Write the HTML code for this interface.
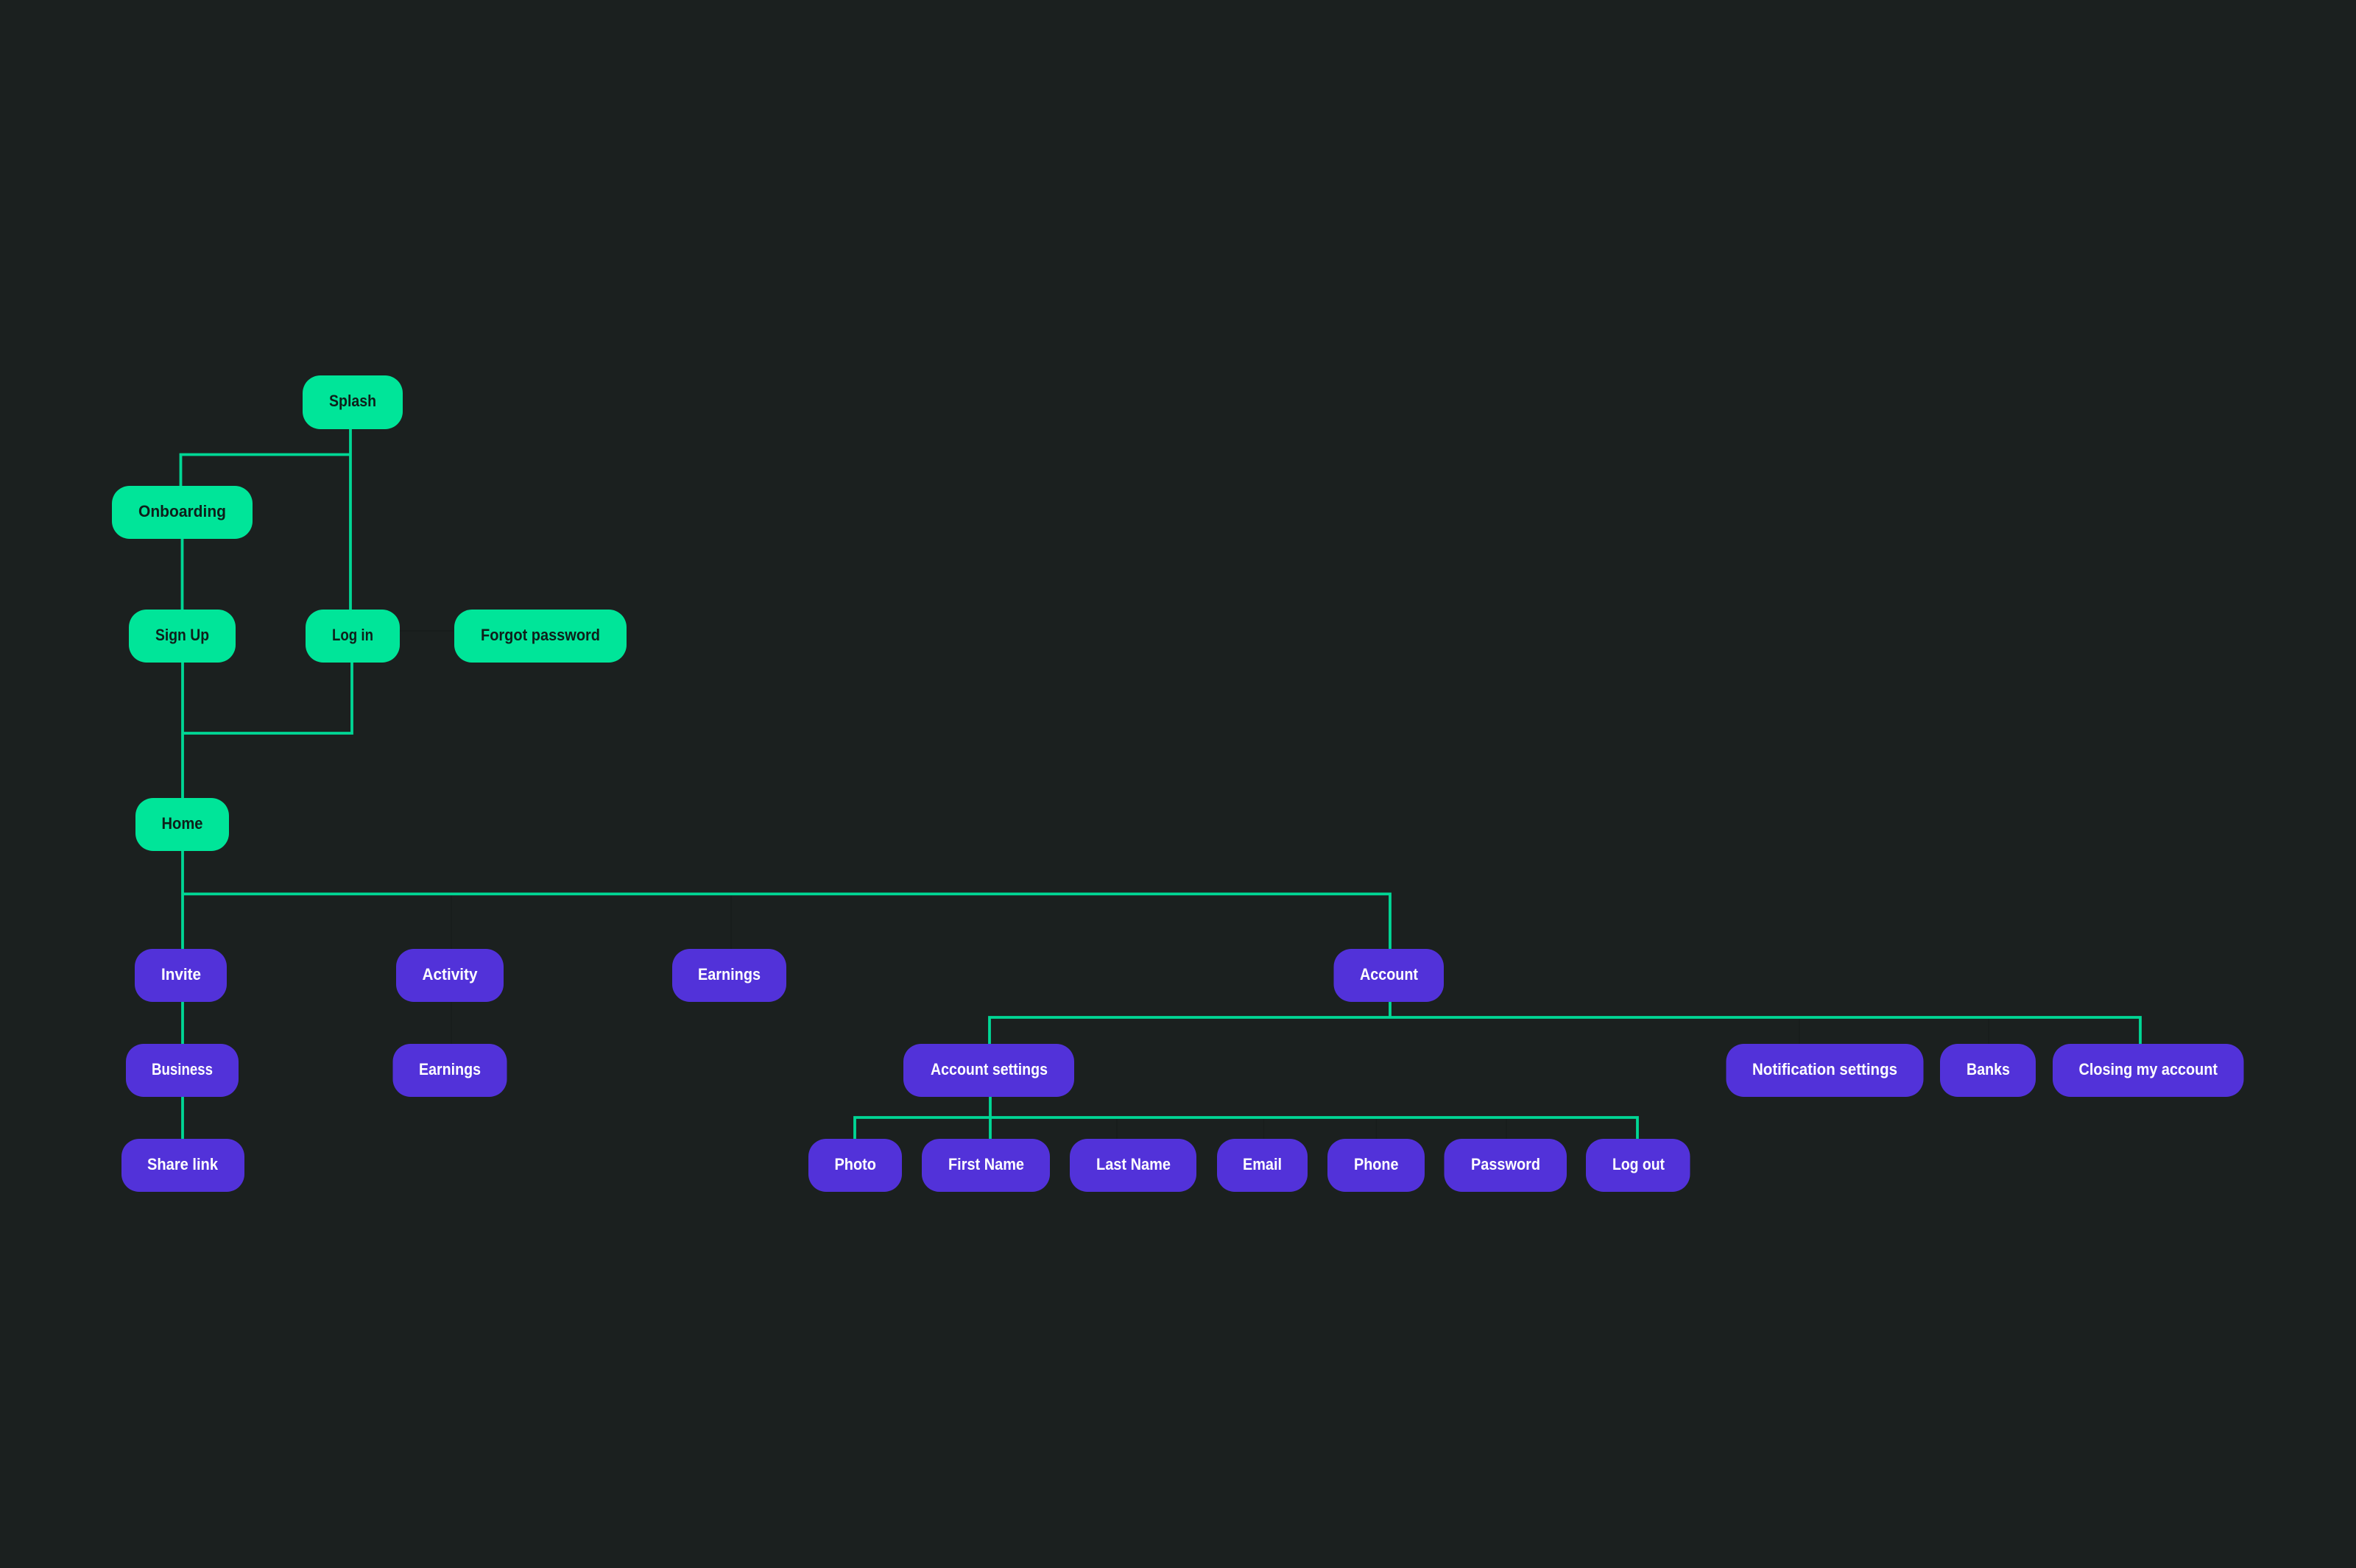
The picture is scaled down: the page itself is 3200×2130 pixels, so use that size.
<!DOCTYPE html>
<html>
<head>
<meta charset="utf-8">
<style>
html,body{margin:0;padding:0;background:#1b201f;}
svg{display:block;}
text{font-family:"Liberation Sans",sans-serif;font-weight:700;font-size:22px;text-anchor:start;}
.g rect{fill:#00e599;}
.p rect{fill:#5232d9;}
.g text{fill:#0e1f1a;}
.p text{fill:#ffffff;}
.l{stroke:#00d795;stroke-width:3.8;fill:none;}
.f{stroke:#181c1b;stroke-width:1.5;fill:none;}
.t{transform:translateY(-1px);}
</style>
</head>
<body>
<svg xmlns="http://www.w3.org/2000/svg" width="3200" height="2130" viewBox="0 0 3200 2130">
<rect width="3200" height="2130" fill="#1b201f"/>

<g class="f">
<path d="M543 857H616"/>
<path d="M613 1216V1289"/>
<path d="M993 1216V1289"/>
<path d="M613 1361V1418"/>
<path d="M2444 1384V1418"/>
<path d="M2701 1384V1418"/>
<path d="M1517 1520V1547"/>
<path d="M1716.5 1520V1547"/>
<path d="M1869.5 1520V1547"/>
<path d="M2046 1520V1547"/>
</g>

<g class="l">
<path d="M476 583V828"/>
<path d="M476 617.5H245.5V660"/>
<path d="M247.5 732V828"/>
<path d="M248 900V1084"/>
<path d="M478 900V996H248"/>
<path d="M248 1156V1289"/>
<path d="M248 1214.4H1888V1289"/>
<path d="M248 1361V1418"/>
<path d="M248 1490V1547"/>
<path d="M1888 1361V1382"/>
<path d="M1344 1418V1382H2907V1418"/>
<path d="M1345 1490V1547"/>
<path d="M1161 1547V1518H2224V1547"/>
</g>

<g class="g">
<rect x="411" y="510" width="136" height="73" rx="24"/>
<text class="t" x="447" y="553" textLength="64" lengthAdjust="spacingAndGlyphs">Splash</text>
<rect x="152" y="660" width="191" height="72" rx="24"/>
<text class="t" x="188" y="703" textLength="119" lengthAdjust="spacingAndGlyphs">Onboarding</text>
<rect x="175" y="828" width="145" height="72" rx="24"/>
<text class="t" x="211" y="871" textLength="73" lengthAdjust="spacingAndGlyphs">Sign Up</text>
<rect x="415" y="828" width="128" height="72" rx="24"/>
<text class="t" x="451" y="871" textLength="56" lengthAdjust="spacingAndGlyphs">Log in</text>
<rect x="617" y="828" width="234" height="72" rx="24"/>
<text class="t" x="653" y="871" textLength="162" lengthAdjust="spacingAndGlyphs">Forgot password</text>
<rect x="184" y="1084" width="127" height="72" rx="24"/>
<text class="t" x="219.500" y="1127" textLength="56" lengthAdjust="spacingAndGlyphs">Home</text>
</g>

<g class="p">
<rect x="183" y="1289" width="125" height="72" rx="24"/>
<text class="t" x="219" y="1332" textLength="54" lengthAdjust="spacingAndGlyphs">Invite</text>
<rect x="538" y="1289" width="146" height="72" rx="24"/>
<text class="t" x="573.500" y="1332" textLength="75" lengthAdjust="spacingAndGlyphs">Activity</text>
<rect x="913" y="1289" width="155" height="72" rx="24"/>
<text class="t" x="948" y="1332" textLength="85" lengthAdjust="spacingAndGlyphs">Earnings</text>
<rect x="1811.500" y="1289" width="149.500" height="72" rx="24"/>
<text class="t" x="1847" y="1332" textLength="79" lengthAdjust="spacingAndGlyphs">Account</text>

<rect x="171" y="1418" width="153" height="72" rx="24"/>
<text class="t" x="206" y="1461" textLength="83" lengthAdjust="spacingAndGlyphs">Business</text>
<rect x="533.500" y="1418" width="155" height="72" rx="24"/>
<text class="t" x="569" y="1461" textLength="84" lengthAdjust="spacingAndGlyphs">Earnings</text>
<rect x="1227" y="1418" width="232" height="72" rx="24"/>
<text class="t" x="1264" y="1461" textLength="159" lengthAdjust="spacingAndGlyphs">Account settings</text>
<rect x="2344.500" y="1418" width="268" height="72" rx="24"/>
<text class="t" x="2380" y="1461" textLength="197" lengthAdjust="spacingAndGlyphs">Notification settings</text>
<rect x="2635" y="1418" width="130" height="72" rx="24"/>
<text class="t" x="2671" y="1461" textLength="59" lengthAdjust="spacingAndGlyphs">Banks</text>
<rect x="2788" y="1418" width="259.500" height="72" rx="24"/>
<text class="t" x="2823.500" y="1461" textLength="188.500" lengthAdjust="spacingAndGlyphs">Closing my account</text>

<rect x="165" y="1547" width="167" height="72" rx="24"/>
<text class="t" x="200" y="1590" textLength="96" lengthAdjust="spacingAndGlyphs">Share link</text>
<rect x="1098" y="1547" width="127" height="72" rx="24"/>
<text class="t" x="1133.500" y="1590" textLength="56.500" lengthAdjust="spacingAndGlyphs">Photo</text>
<rect x="1252" y="1547" width="174" height="72" rx="24"/>
<text class="t" x="1288" y="1590" textLength="103" lengthAdjust="spacingAndGlyphs">First Name</text>
<rect x="1453" y="1547" width="172" height="72" rx="24"/>
<text class="t" x="1489" y="1590" textLength="101" lengthAdjust="spacingAndGlyphs">Last Name</text>
<rect x="1653" y="1547" width="123" height="72" rx="24"/>
<text class="t" x="1688" y="1590" textLength="53" lengthAdjust="spacingAndGlyphs">Email</text>
<rect x="1803" y="1547" width="132" height="72" rx="24"/>
<text class="t" x="1839" y="1590" textLength="60.500" lengthAdjust="spacingAndGlyphs">Phone</text>
<rect x="1961.500" y="1547" width="166.500" height="72" rx="24"/>
<text class="t" x="1998" y="1590" textLength="94" lengthAdjust="spacingAndGlyphs">Password</text>
<rect x="2154" y="1547" width="141.500" height="72" rx="24"/>
<text class="t" x="2190" y="1590" textLength="71" lengthAdjust="spacingAndGlyphs">Log out</text>
</g>
</svg>
</body>
</html>
